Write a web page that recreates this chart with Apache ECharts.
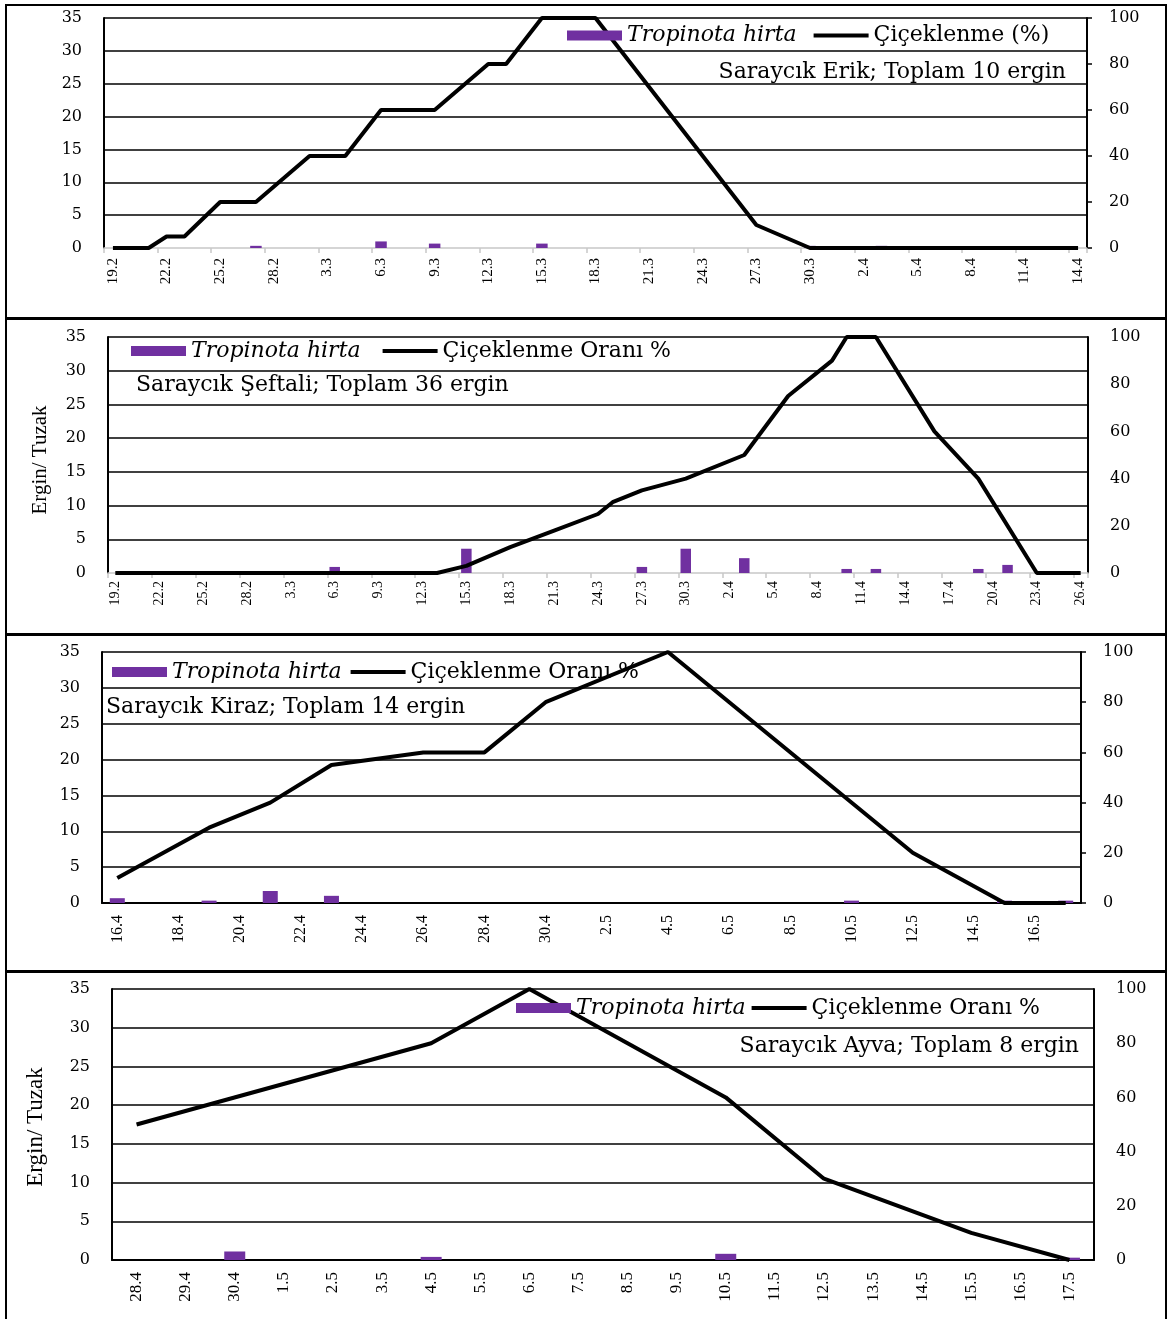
<!DOCTYPE html>
<html>
<head>
<meta charset="utf-8">
<title>Tropinota hirta – Saraycık</title>
<script src="https://cdn.jsdelivr.net/npm/echarts@6/dist/echarts.min.js"></script>
<style>
  html, body { margin: 0; padding: 0; background: #fff; }
  #chart { width: 1169px; height: 1319px; }
</style>
</head>
<body>
<div id="chart"></div>
<script>
// ---- Saraycık Erik (daily, 19 Feb – 14 Apr) ----
const erikDates = ['19.2','20.2','21.2','22.2','23.2','24.2','25.2','26.2','27.2','28.2',
  '1.3','2.3','3.3','4.3','5.3','6.3','7.3','8.3','9.3','10.3','11.3','12.3','13.3','14.3','15.3','16.3',
  '17.3','18.3','19.3','20.3','21.3','22.3','23.3','24.3','25.3','26.3','27.3','28.3','29.3','30.3','31.3',
  '1.4','2.4','3.4','4.4','5.4','6.4','7.4','8.4','9.4','10.4','11.4','12.4','13.4','14.4'];
// flowering (%), right axis
const erikBloom = [['19.2',0],['21.2',0],['22.2',5],['23.2',5],['25.2',20],['27.2',20],['2.3',40],['4.3',40],
  ['6.3',60],['9.3',60],['12.3',80],['13.3',80],['15.3',100],['18.3',100],['27.3',10],['30.3',0],['14.4',0]];
// adults per trap, left axis
const erikAdults = [['27.2',0.33],['6.3',1.0],['9.3',0.67],['15.3',0.67],['30.3',0.33],['3.4',0.33]];

// ---- Saraycık Şeftali (daily, 19 Feb – 26 Apr) ----
const seftaliDates = ['19.2','20.2','21.2','22.2','23.2','24.2','25.2','26.2','27.2','28.2',
  '1.3','2.3','3.3','4.3','5.3','6.3','7.3','8.3','9.3','10.3','11.3','12.3','13.3','14.3','15.3','16.3',
  '17.3','18.3','19.3','20.3','21.3','22.3','23.3','24.3','25.3','26.3','27.3','28.3','29.3','30.3','31.3',
  '1.4','2.4','3.4','4.4','5.4','6.4','7.4','8.4','9.4','10.4','11.4','12.4','13.4','14.4','15.4','16.4',
  '17.4','18.4','19.4','20.4','21.4','22.4','23.4','24.4','25.4','26.4'];
const seftaliBloom = [['19.2',0],['13.3',0],['15.3',3],['18.3',11],['21.3',18],['24.3',25],['25.3',30],
  ['27.3',35],['30.3',40],['3.4',50],['6.4',75],['9.4',90],['10.4',100],['12.4',100],['16.4',60],
  ['19.4',40],['23.4',0],['26.4',0]];
const seftaliAdults = [['6.3',0.9],['15.3',3.6],['27.3',0.9],['30.3',3.6],['3.4',2.2],['10.4',0.6],
  ['12.4',0.6],['19.4',0.6],['21.4',1.2]];

// ---- Saraycık Kiraz (daily, 16 Apr – 17 May) ----
const kirazDates = ['16.4','17.4','18.4','19.4','20.4','21.4','22.4','23.4','24.4','25.4','26.4','27.4',
  '28.4','29.4','30.4','1.5','2.5','3.5','4.5','5.5','6.5','7.5','8.5','9.5','10.5','11.5','12.5','13.5',
  '14.5','15.5','16.5','17.5'];
const kirazBloom = [['16.4',10],['19.4',30],['21.4',40],['23.4',55],['26.4',60],['28.4',60],['30.4',80],
  ['4.5',100],['12.5',20],['15.5',0],['17.5',0]];
const kirazAdults = [['16.4',0.67],['19.4',0.33],['21.4',1.67],['23.4',1.0],['10.5',0.33],['15.5',0.33],['17.5',0.33]];

// ---- Saraycık Ayva (daily, 28 Apr – 17 May) ----
const ayvaDates = ['28.4','29.4','30.4','1.5','2.5','3.5','4.5','5.5','6.5','7.5','8.5','9.5','10.5',
  '11.5','12.5','13.5','14.5','15.5','16.5','17.5'];
const ayvaBloom = [['28.4',50],['4.5',80],['6.5',100],['10.5',60],['12.5',30],['15.5',10],['17.5',0]];
const ayvaAdults = [['30.4',1.1],['4.5',0.4],['10.5',0.8],['17.5',0.3]];

const speciesName = 'Tropinota hirta';

// place observations on the daily category axis (no reading = gap)
function onDates(dates, obs) {
  const m = new Map(obs);
  return dates.map(d => (m.has(d) ? m.get(d) : null));
}

const PURPLE = '#7030A0';
const SERIF = 'DejaVu Serif';
const NARROW = 'Liberation Serif';
// thick dash used as the legend key of the flowering line
const LINE_KEY = 'path://M0,0H55V4H0Z';

const panels = [
  { dates: erikDates, bloom: erikBloom, adults: erikAdults,
    bloomName: 'Çiçeklenme (%)', note: 'Saraycık Erik; Toplam 10 ergin',
    grid: { left: 104, top: 18, width: 983, height: 230 },
    labelEvery: 2, labelSize: 15, labelMargin: 10,
    baseColor: '#c8c8c8', baseWidth: 1.5, baseTicks: true, rightTicks: true, barWidth: 11.5,
    legend: { left: 567, top: 23.5, itemGap: 17 },
    title: { right: 103, top: 59 } },
  { dates: seftaliDates, bloom: seftaliBloom, adults: seftaliAdults,
    bloomName: 'Çiçeklenme Oranı %', note: 'Saraycık Şeftali; Toplam 36 ergin',
    grid: { left: 108, top: 337, width: 980, height: 236 },
    labelEvery: 2, labelSize: 14, labelMargin: 8,
    baseColor: '#c8c8c8', baseWidth: 1.5, baseTicks: true, rightTicks: false, barWidth: 10.5,
    legend: { left: 131, top: 339, itemGap: 22 },
    title: { left: 136, top: 372 },
    axisName: { x: 40, y: 460, size: 21 } },
  { dates: kirazDates, bloom: kirazBloom, adults: kirazAdults,
    bloomName: 'Çiçeklenme Oranı %', note: 'Saraycık Kiraz; Toplam 14 ergin',
    grid: { left: 102, top: 652, width: 979, height: 251 },
    labelEvery: 1, labelSize: 16, labelMargin: 12,
    baseColor: '#000', baseWidth: 2, baseTicks: false, rightTicks: true, barWidth: 15,
    legend: { left: 112, top: 660, itemGap: 9 },
    title: { left: 106, top: 694.5 } },
  { dates: ayvaDates, bloom: ayvaBloom, adults: ayvaAdults,
    bloomName: 'Çiçeklenme Oranı %', note: 'Saraycık Ayva; Toplam 8 ergin',
    grid: { left: 112, top: 989, width: 982, height: 271 },
    labelEvery: 0, labelSize: 17, labelMargin: 12,
    baseColor: '#000', baseWidth: 2, baseTicks: false, rightTicks: false, barWidth: 21,
    legend: { left: 516, top: 996, itemGap: 6 },
    title: { right: 90, top: 1033 },
    axisName: { x: 36, y: 1127, size: 23 } }
];

// panel frames
const frames = [
  { y: 5, h: 313 },
  { y: 319, h: 315 },
  { y: 635, h: 336 },
  { y: 972, h: 360 }
];

const option = {
  animation: false,
  backgroundColor: '#fff',
  grid: [], xAxis: [], yAxis: [], series: [], legend: [], title: [], graphic: []
};

panels.forEach((p, i) => {
  option.grid.push(Object.assign({ containLabel: false }, p.grid));

  option.xAxis.push({
    type: 'category', gridIndex: i, data: p.dates, boundaryGap: true,
    axisLine: { show: true, lineStyle: { color: p.baseColor, width: p.baseWidth } },
    axisTick: { show: p.baseTicks, interval: p.labelEvery, length: 5,
      lineStyle: { color: p.baseColor, width: 1.5 } },
    axisLabel: { interval: p.labelEvery, rotate: 90, margin: p.labelMargin,
      fontFamily: NARROW, fontSize: p.labelSize, color: '#000' },
    splitLine: { show: false }
  });

  // left: adults per trap
  option.yAxis.push({
    type: 'value', gridIndex: i, position: 'left', min: 0, max: 35, interval: 5,
    axisLine: { show: true, lineStyle: { color: '#000', width: 2 } },
    axisTick: { show: false },
    axisLabel: { margin: 22, fontFamily: SERIF, fontSize: 16, color: '#000' },
    splitLine: { show: true, showMinLine: p.baseColor === '#000',
      lineStyle: { color: '#000', width: 1.6 } }
  });
  // right: flowering percentage
  option.yAxis.push({
    type: 'value', gridIndex: i, position: 'right', min: 0, max: 100, interval: 20,
    axisLine: { show: true, lineStyle: { color: '#000', width: 2 } },
    axisTick: { show: p.rightTicks, length: 5, lineStyle: { color: '#000', width: 1.5 } },
    axisLabel: { margin: 22, fontFamily: SERIF, fontSize: 16, color: '#000' },
    splitLine: { show: false }
  });

  option.series.push({
    name: speciesName, type: 'bar', xAxisIndex: i, yAxisIndex: 2 * i,
    data: onDates(p.dates, p.adults), barWidth: p.barWidth,
    itemStyle: { color: PURPLE }
  });
  option.series.push({
    name: p.bloomName, type: 'line', xAxisIndex: i, yAxisIndex: 2 * i + 1,
    data: onDates(p.dates, p.bloom), connectNulls: true, symbol: 'none', showSymbol: false,
    itemStyle: { color: '#000' },
    lineStyle: { color: '#000', width: 4 }
  });

  option.legend.push({
    left: p.legend.left, top: p.legend.top, padding: 0, itemGap: p.legend.itemGap,
    itemWidth: 55, itemHeight: 10, selectedMode: false, orient: 'horizontal',
    symbolKeepAspect: true,
    data: [
      { name: speciesName, icon: 'rect', itemStyle: { color: PURPLE } },
      { name: p.bloomName, icon: LINE_KEY, itemStyle: { color: '#000' } }
    ],
    formatter: name => (name === speciesName ? '{i|' + name + '}' : '{n|' + name + '}'),
    textStyle: {
      color: '#000', fontFamily: SERIF, fontSize: 22, lineHeight: 24,
      rich: {
        i: { fontFamily: SERIF, fontStyle: 'italic', fontSize: 22, lineHeight: 24, color: '#000' },
        n: { fontFamily: SERIF, fontSize: 22, lineHeight: 24, color: '#000' }
      }
    }
  });

  const t = {
    text: p.note, top: p.title.top, padding: 0,
    textStyle: { fontFamily: SERIF, fontSize: 22, fontWeight: 'normal', color: '#000', lineHeight: 26 }
  };
  if (p.title.right !== undefined) t.right = p.title.right; else t.left = p.title.left;
  option.title.push(t);

  if (p.axisName) {
    option.graphic.push({
      type: 'text', x: p.axisName.x, y: p.axisName.y, rotation: Math.PI / 2,
      style: { text: 'Ergin/ Tuzak', fontFamily: NARROW, fontSize: p.axisName.size,
        fill: '#000', align: 'center', verticalAlign: 'middle' }
    });
  }
});

frames.forEach(f => {
  option.graphic.push({
    type: 'rect', shape: { x: 6, y: f.y, width: 1160, height: f.h },
    style: { fill: null, stroke: '#000', lineWidth: 2 }, silent: true
  });
});

const chart = echarts.init(document.getElementById('chart'), null, { renderer: 'canvas' });
chart.setOption(option);
</script>
</body>
</html>
